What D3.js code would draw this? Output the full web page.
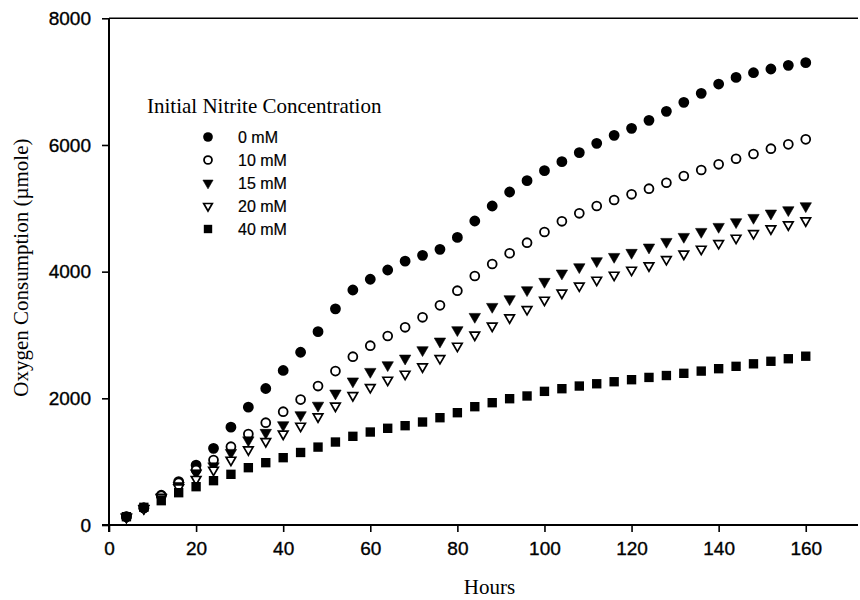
<!DOCTYPE html>
<html><head><meta charset="utf-8">
<script src="https://cdn.jsdelivr.net/npm/d3@7"></script>
<style>body{margin:0;background:#fff}svg{display:block}</style>
</head><body>
<svg id="c" width="860" height="600"></svg>
<script>
const hours = [4,8,12,16,20,24,28,32,36,40,44,48,52,56,60,64,68,72,76,80,84,88,92,96,100,104,108,112,116,120,124,128,132,136,140,144,148,152,156,160];
const s0mM  = [130,270,470,684,945,1210,1545,1860,2155,2440,2728,3052,3413,3710,3880,4026,4166,4257,4352,4541,4800,5036,5257,5436,5595,5736,5880,6026,6152,6263,6389,6531,6673,6815,6962,7067,7141,7199,7257,7299];
const s10mM = [130,270,460,665,868,1026,1236,1437,1615,1789,1980,2194,2430,2657,2831,2984,3121,3279,3468,3699,3931,4121,4290,4457,4626,4795,4921,5036,5131,5221,5310,5404,5510,5605,5695,5783,5857,5941,6010,6089];
const s15mM = [125,265,440,620,820,930,1142,1340,1458,1579,1737,1887,2079,2270,2421,2526,2631,2763,2900,3079,3289,3447,3568,3710,3842,3974,4073,4168,4236,4300,4384,4473,4552,4631,4710,4784,4852,4921,4973,5036];
const s20mM = [125,260,430,590,722,868,1026,1190,1320,1437,1563,1710,1879,2045,2174,2289,2384,2500,2631,2826,3000,3142,3273,3405,3552,3663,3776,3868,3947,4026,4094,4194,4279,4357,4447,4531,4605,4678,4741,4804];
const s40mM = [131,279,384,510,605,700,800,905,984,1063,1145,1230,1310,1400,1468,1527,1568,1626,1694,1773,1868,1931,1994,2037,2110,2152,2194,2230,2262,2294,2330,2360,2395,2430,2468,2505,2545,2585,2625,2665];
const seriesNames = ["0 mM","10 mM","15 mM","20 mM","40 mM"];
const xTicks = [0,20,40,60,80,100,120,140,160];
const yTicks = [0,2000,4000,6000,8000];
const legendTitle = "Initial Nitrite Concentration";
const xTitle = "Hours";
const yTitle = "Oxygen Consumption (\u00b5mole)";

const series = [s0mM, s10mM, s15mM, s20mM, s40mM];
const styles = [
  {type: d3.symbolCircle, size: 92, fill: "#000", stroke: "none", sw: 0, rot: 0},
  {type: d3.symbolCircle, size: 62, fill: "#fff", stroke: "#000", sw: 1.8, rot: 0},
  {type: d3.symbolTriangle, size: 56, fill: "#000", stroke: "#000", sw: 0.6, rot: 180},
  {type: d3.symbolTriangle, size: 40, fill: "#fff", stroke: "#000", sw: 1.7, rot: 180},
  {type: d3.symbolSquare, size: 88, fill: "#000", stroke: "none", sw: 0, rot: 0}
];

const svg = d3.select("#c");
const x = d3.scaleLinear().domain([0,172]).range([109,858]);
const y = d3.scaleLinear().domain([0,8000]).range([525,18.3]);

const tickFont = "'Liberation Sans', Arial, Helvetica, sans-serif";
const serif = "'Liberation Serif', 'Times New Roman', Times, serif";

// x axis
const xAx = svg.append("g").attr("transform", `translate(0,${y(0)})`)
  .call(d3.axisBottom(x).tickValues(xTicks).tickSize(7).tickSizeOuter(0).tickPadding(10).tickFormat(d3.format("d")));
xAx.select(".domain").remove();
xAx.append("line").attr("x1", x(0)-7).attr("x2", x(172)).attr("y1",0).attr("y2",0).attr("stroke","#000").attr("stroke-width",2);
xAx.selectAll(".tick line").attr("stroke-width",1.6);
xAx.selectAll("text").attr("font-family", tickFont).attr("font-size", 19).attr("fill","#000")
  .attr("stroke","#000").attr("stroke-width",0.35);

// y axis
const yAx = svg.append("g").attr("transform", `translate(${x(0)},0)`)
  .call(d3.axisLeft(y).tickValues(yTicks).tickSize(7).tickSizeOuter(0).tickPadding(11).tickFormat(d3.format("d")));
yAx.select(".domain").remove();
yAx.append("line").attr("x1",0).attr("x2",0).attr("y1", y(8000)).attr("y2", y(0)+7).attr("stroke","#000").attr("stroke-width",2);
yAx.selectAll(".tick line").attr("stroke-width",1.6);
yAx.selectAll("text").attr("font-family", tickFont).attr("font-size", 19).attr("fill","#000")
  .attr("stroke","#000").attr("stroke-width",0.35);

// top line
svg.append("line").attr("x1", x(0)).attr("x2", x(172)).attr("y1", y(8000)).attr("y2", y(8000)).attr("stroke","#000").attr("stroke-width",1.6);

// titles
svg.append("text").attr("x", (x(0)+x(172))/2 + 6).attr("y", 594).attr("text-anchor","middle")
  .attr("font-family", serif).attr("font-size", 21).text(xTitle);
svg.append("text").attr("transform", `translate(28,${(y(0)+y(8000))/2 - 4}) rotate(-90)`).attr("text-anchor","middle")
  .attr("font-family", serif).attr("font-size", 21).text(yTitle);

// data
series.forEach((vals, si) => {
  const st = styles[si];
  const sym = d3.symbol().type(st.type).size(st.size);
  svg.append("g").selectAll("path").data(hours.map((h,i)=>({h, v: vals[i]}))).join("path")
    .attr("d", sym)
    .attr("transform", d => `translate(${x(d.h)},${y(d.v)}) rotate(${st.rot})`)
    .attr("fill", st.fill).attr("stroke", st.stroke).attr("stroke-width", st.sw);
});

// legend
const lg = svg.append("g");
lg.append("text").attr("x", 147).attr("y", 113).attr("font-family", serif).attr("font-size", 21).text(legendTitle);
seriesNames.forEach((name, si) => {
  const st = styles[si];
  const yy = 137 + si*23;
  lg.append("path").attr("d", d3.symbol().type(st.type).size(st.size*0.8))
    .attr("transform", `translate(208,${yy}) rotate(${st.rot})`)
    .attr("fill", st.fill).attr("stroke", st.stroke).attr("stroke-width", st.sw);
  lg.append("text").attr("x", 238).attr("y", yy).attr("dy","0.36em")
    .attr("font-family", tickFont).attr("font-size", 16)
    .attr("stroke","#000").attr("stroke-width",0.2).text(name);
});
</script>
</body></html>
